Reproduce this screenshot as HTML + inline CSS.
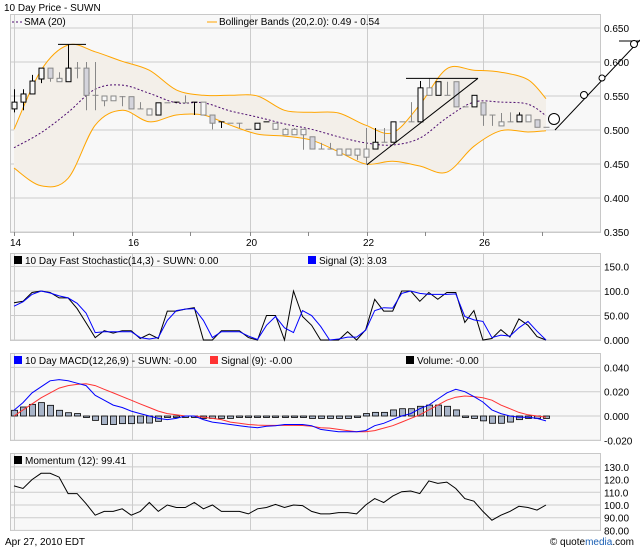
<!DOCTYPE html>
<html><head><meta charset="utf-8">
<style>
html,body{margin:0;padding:0;background:#fff;}
svg{display:block;font-family:"Liberation Sans",Arial,sans-serif;}
text{font-size:10px;fill:#000;}
</style></head>
<body>
<svg id="c" width="640" height="550" viewBox="0 0 640 550" xmlns="http://www.w3.org/2000/svg"></svg>
<script>
// ---- data ----
const dayLabels = ["14","16","20","22","26"];
const dayMinor = ["15","19","21","23","27"];
const priceTicks = [0.650,0.600,0.550,0.500,0.450,0.400,0.350];
const opens  = [.531,.541,.553,.575,.591,.571,.571,.591,.591,.551,.543,.543,.549,.549,.531,.522,.522,.540,.541,.540,.541,.522,.522,.512,.510,.510,.501,.501,.512,.501,.493,.493,.493,.490,.472,.472,.463,.463,.463,.460,.472,.482,.482,.512,.512,.512,.551,.551,.551,.571,.534,.534,.540,.522,.506,.512,.512,.512,.515,.504];
const highs  = [.560,.560,.581,.591,.591,.585,.626,.600,.600,.600,.550,.550,.550,.549,.541,.531,.540,.540,.541,.551,.541,.541,.522,.512,.510,.510,.501,.510,.512,.510,.503,.503,.501,.490,.481,.481,.472,.472,.472,.503,.503,.503,.512,.512,.541,.572,.576,.571,.571,.571,.534,.551,.540,.522,.525,.526,.526,.522,.515,.504];
const lows   = [.526,.529,.553,.569,.571,.571,.571,.576,.529,.529,.535,.543,.535,.531,.531,.522,.522,.540,.541,.540,.522,.522,.501,.503,.510,.503,.501,.501,.512,.501,.493,.493,.471,.472,.472,.472,.463,.463,.456,.449,.472,.482,.482,.512,.512,.512,.551,.551,.551,.534,.534,.534,.506,.506,.506,.512,.512,.512,.504,.504];
const closes = [.541,.553,.572,.591,.576,.576,.591,.591,.551,.551,.550,.550,.549,.531,.531,.531,.540,.540,.541,.540,.541,.541,.510,.512,.510,.510,.501,.510,.512,.510,.501,.501,.501,.472,.472,.472,.472,.472,.472,.472,.482,.482,.512,.512,.512,.562,.562,.571,.551,.534,.534,.551,.522,.522,.512,.512,.522,.522,.504,.504];
const bandIdx = [0,3,6,9,12,15,18,21,24,27,30,33,36,39,42,45,48,51,54,57,59];
const bandUpper = [.501,.588,.625,.615,.601,.588,.559,.551,.551,.550,.529,.526,.525,.507,.496,.537,.590,.588,.585,.574,.546];
const bandLower = [.444,.418,.429,.507,.529,.512,.522,.522,.507,.494,.491,.485,.468,.450,.454,.447,.438,.476,.499,.497,.499];
const sma20 = [.474,.496,.526,.560,.566,.554,.540,.540,.528,.519,.509,.501,.490,.481,.478,.488,.518,.541,.541,.538,.521];
const stochTicks = ["150.0","100.0","50.00","0.000"];
const stochTickVals = [150,100,50,0];
const stochK = [76,79,97,100,97,86,86,64,35,5,19,14,19,19,3,12,3,59,59,63,66,0,0,19,19,19,5,0,50,50,0,100,48,30,0,0,0,17,0,21,83,59,59,100,100,79,97,83,97,97,36,60,0,3,21,6,43,30,7,0];
const stochD = [69,78,93,100,96,90,86,75,55,15,17,17,17,17,5,2,5,40,60,63,64,40,5,17,17,17,8,1,30,48,25,15,60,50,28,0,2,6,6,20,60,66,65,95,100,95,93,93,93,94,48,41,38,5,10,8,25,38,18,0];
const macdTicks = ["0.040","0.020","0.000","-0.020"];
const macdTickVals = [0.04,0.02,0,-0.02];
const macdLine = [.0047,.011,.019,.024,.029,.030,.029,.027,.025,.017,.013,.009,.007,.004,.002,0,-.002,-.003,-.002,0,0,-.003,-.005,-.006,-.007,-.008,-.009,-.0096,-.0085,-.008,-.007,-.007,-.007,-.008,-.011,-.012,-.013,-.013,-.013,-.012,-.008,-.006,-.003,0,.002,.006,.009,.014,.019,.022,.020,.016,.0115,.005,.002,0,-.001,-.001,-.002,-.004];
const macdSignal = [0,.005,.010,.015,.019,.023,.025,.026,.0265,.025,.022,.019,.016,.013,.010,.007,.004,.002,.001,0,0,-.001,-.002,-.003,-.005,-.006,-.007,-.0075,-.0077,-.0077,-.0077,-.0077,-.0078,-.0085,-.0096,-.010,-.011,-.012,-.013,-.013,-.012,-.010,-.008,-.005,-.002,.001,.005,.009,.013,.0155,.0165,.016,.015,.013,.009,.006,.003,.001,0,-.001];
const macdHist = [.0047,.0074,.0096,.011,.0088,.0047,.0027,.002,0,-.0036,-.007,-.007,-.0063,-.0063,-.0058,-.0058,-.0044,0,0,0,0,-.002,-.002,-.002,-.002,-.001,-.001,0,0,0,0,0,0,-.002,-.002,-.002,-.002,-.002,-.001,.002,.003,.003,.005,.006,.006,.008,.009,.009,.008,.005,-.001,-.002,-.004,-.006,-.006,-.005,-.003,-.002,-.002,-.002];
const momTicks = ["130.0","120.0","110.0","100.0","90.00","80.00"];
const momTickVals = [130,120,110,100,90,80];
const momentum = [115,113,120,125,125,122,109,109,101,92,95,95,97,92,95,102,95,100,98,98,102,97,100,95,95,95,93,97,98,100.5,98,100,99.5,95,93,93,94,94,93,100,105,102,107,110.5,111,109,119,117,118,113,105,103,95,88,92,95,99,98,96,100];

// ---- scales ----
const X0=14, DX=(546-14)/59;
const xi = i => X0 + i*DX;
const yP = v => 28 + (0.65 - v)*680;
const yS = v => 340 - v*24.5/50;
const yM = v => 416 - v*24.3/0.02;
const yMo = v => 505 - (v-100)*1.27;

const svg = document.getElementById('c');
const NS='http://www.w3.org/2000/svg';
function mk(tag, attrs, parent){
  const e=document.createElementNS(NS,tag);
  for(const k in attrs) e.setAttribute(k,attrs[k]);
  (parent||svg).appendChild(e); return e;
}
function txt(x,y,s,parent,anchor){
  const t=mk('text',{x:x,y:y},parent); t.textContent=s;
  if(anchor) t.setAttribute('text-anchor',anchor);
  return t;
}
// smooth path (Catmull-Rom) through points
function smoothD(pts, move){
  let d=(move?'M':'L')+pts[0][0].toFixed(1)+','+pts[0][1].toFixed(1);
  for(let i=0;i<pts.length-1;i++){
    const p0=pts[Math.max(i-1,0)],p1=pts[i],p2=pts[i+1],p3=pts[Math.min(i+2,pts.length-1)];
    const c1=[p1[0]+(p2[0]-p0[0])/6,p1[1]+(p2[1]-p0[1])/6];
    const c2=[p2[0]-(p3[0]-p1[0])/6,p2[1]-(p3[1]-p1[1])/6];
    d+='C'+c1[0].toFixed(1)+','+c1[1].toFixed(1)+' '+c2[0].toFixed(1)+','+c2[1].toFixed(1)+' '+p2[0].toFixed(1)+','+p2[1].toFixed(1);
  }
  return d;
}
const vGrid=[14,132,250,367,483];

function panel(name, top, bottom, hLines){
  const g=mk('g',{});
  
  
  mk('rect',{x:10.5,y:top+0.5,width:590,height:bottom-top,fill:'#f8f8f8',stroke:'#c8c8c8'},g);
  hLines.forEach(y=>mk('line',{x1:11,x2:600,y1:y,y2:y,stroke:'#cccccc'},g));
  vGrid.forEach(x=>mk('line',{x1:x+0.5,x2:x+0.5,y1:top+1,y2:bottom,stroke:'#cccccc'},g));
  return g;
}
function poly(vals, idxs, fy, color, parent, extra){
  const pts=vals.map((v,k)=>xi(idxs?idxs[k]:k).toFixed(1)+','+fy(v).toFixed(1)).join(' ');
  return mk('polyline',Object.assign({points:pts,fill:'none',stroke:color,'stroke-width':1},extra||{}),parent);
}
function legendSq(x,y,color,parent){ mk('rect',{x:x,y:y-8,width:8,height:8,fill:color},parent); }

// ---- title ----
const title=txt(4,11,"10 Day Price - SUWN");



// ---- main price panel ----
const gp=panel('price-panel',14,232,priceTicks.map(yP));
const upPts=bandUpper.map((v,k)=>[xi(bandIdx[k]),yP(v)]);
const loPts=bandLower.map((v,k)=>[xi(bandIdx[k]),yP(v)]);
const smPts=sma20.map((v,k)=>[xi(bandIdx[k]),yP(v)]);
const area=mk('path',{d:smoothD(upPts,true)+smoothD(loPts.slice().reverse(),false)+'Z',fill:'#f3efe9',stroke:'none'},gp);


const bu=mk('path',{d:smoothD(upPts,true),fill:'none',stroke:'#ffa500'},gp);


const bl=mk('path',{d:smoothD(loPts,true),fill:'none',stroke:'#ffa500'},gp);


const sm=mk('path',{d:smoothD(smPts,true),fill:'none',stroke:'#4b0a6e','stroke-dasharray':'2,2'},gp);


// candles
for(let i=0;i<opens.length;i++){
  const o=opens[i],h=highs[i],l=lows[i],c=closes[i];
  const prev=i>0?closes[i-1]:o;
  const col=(c>prev)?'#000':'#888';
  const x=Math.round(xi(i))+0.5;
  const g=mk('g',{},gp);
  
  
  mk('line',{x1:x,x2:x,y1:yP(h),y2:yP(l),stroke:col},g);
  const top=yP(Math.max(o,c)), bot=yP(Math.min(o,c));
  if(bot-top<1.5){
    mk('line',{x1:x-3,x2:x+3,y1:top,y2:top,stroke:col},g);
  } else {
    mk('rect',{x:x-2.5,y:top,width:5,height:bot-top,fill:(c<o)?'#d4d4dc':'#f8f8f8',stroke:col},g);
  }
}
// annotations
const ann=mk('g',{stroke:'#000','stroke-width':1,fill:'none'},gp);


mk('line',{x1:58,x2:86,y1:yP(0.626),y2:yP(0.626)},ann);
mk('line',{x1:406,x2:478,y1:yP(0.576),y2:yP(0.576)},ann);
mk('line',{x1:367,y1:yP(0.449),x2:478,y2:yP(0.576)},ann);
mk('line',{x1:555,y1:130,x2:640,y2:40},ann);
mk('line',{x1:619,y1:41,x2:640,y2:41},ann);
mk('circle',{cx:554,cy:119,r:5.5,fill:'#fff'},ann);
mk('circle',{cx:584,cy:95,r:3.5,fill:'#fff'},ann);
mk('circle',{cx:602,cy:78,r:3,fill:'#fff'},ann);
mk('circle',{cx:634,cy:44,r:3.5,fill:'#fff'},ann);
// legend
const lg1=mk('g',{},gp);


mk('line',{x1:12,x2:22,y1:22,y2:22,stroke:'#4b0a6e','stroke-dasharray':'2,2'},lg1);
txt(24,25,"SMA (20)",lg1);
mk('line',{x1:207,x2:217,y1:22,y2:22,stroke:'#ffa500'},lg1);
txt(219,25,"Bollinger Bands (20,2.0): 0.49 - 0.54",lg1);
// axes labels
priceTicks.forEach(v=>{const t=txt(604,yP(v)+4,v.toFixed(3));
 
 });
dayLabels.forEach((s,k)=>{const x=vGrid[k];
 mk('line',{x1:x+0.5,x2:x+0.5,y1:232,y2:236,stroke:'#888'});
 const t=txt(x-4,246,s);  });
dayMinor.forEach((s,k)=>{const x=[73,190,308,425,542][k];
 const m=mk('line',{x1:x+0.5,x2:x+0.5,y1:232,y2:236,stroke:'#888'});
  });

// ---- stochastic panel ----
const gs=panel('stochastic-panel',253,340,stochTickVals.map(yS));
const sk=poly(stochK,null,yS,'#000',gs);


const sd=poly(stochD,null,yS,'#0000ff',gs);


const lg2=mk('g',{},gs);


legendSq(14,264,'#000',lg2); txt(25,264,"10 Day  Fast Stochastic(14,3) - SUWN: 0.00",lg2).setAttribute('xml:space','preserve');
legendSq(308,264,'#0000ff',lg2); txt(319,264,"Signal (3): 3.03",lg2);
stochTickVals.forEach((v,k)=>{const t=txt(604,yS(v)+4,stochTicks[k]);
  });

// ---- MACD panel ----
const gm=panel('macd-panel',353,440,macdTickVals.map(yM));
macdHist.forEach((v,i)=>{
  const x=Math.round(xi(i));
  const y1=yM(Math.max(v,0)), y2=yM(Math.min(v,0));
  const r=mk('rect',{x:x-3+0.5,y:y1,width:6,height:Math.max(y2-y1,1.5),fill:'#a8b4c8',stroke:'#000','stroke-width':0.8},gm);
  
  
});
const ms=poly(macdSignal,null,yM,'#ff3333',gm);


const ml=poly(macdLine,null,yM,'#0000ff',gm);


const lg3=mk('g',{},gm);


legendSq(14,364,'#0000ff',lg3); txt(25,364,"10 Day MACD(12,26,9) - SUWN: -0.00",lg3);
legendSq(210,364,'#ff3333',lg3); txt(221,364,"Signal (9): -0.00",lg3);
legendSq(406,364,'#000',lg3); txt(417,364,"Volume: -0.00",lg3);
macdTickVals.forEach((v,k)=>{const t=txt(604,yM(v)+4,macdTicks[k]);
  });

// ---- momentum panel ----
const gmo=panel('momentum-panel',453,530,momTickVals.map(yMo));
const mo=poly(momentum,null,yMo,'#000',gmo);


const lg4=mk('g',{},gmo);


legendSq(14,464,'#000',lg4); txt(25,464,"Momentum (12): 99.41",lg4);
momTickVals.forEach((v,k)=>{const t=txt(604,yMo(v)+4,momTicks[k]);
  });

// ---- footer ----
const d=txt(5,545,"Apr 27, 2010 EDT");


const q=mk('text',{x:634,y:545,'text-anchor':'end'});


const t1=mk('tspan',{},q); t1.textContent="© quote";
const t2=mk('tspan',{fill:'#1a5fb4'},q); t2.textContent="media";
const t3=mk('tspan',{},q); t3.textContent=".com";
</script>
</body></html>
